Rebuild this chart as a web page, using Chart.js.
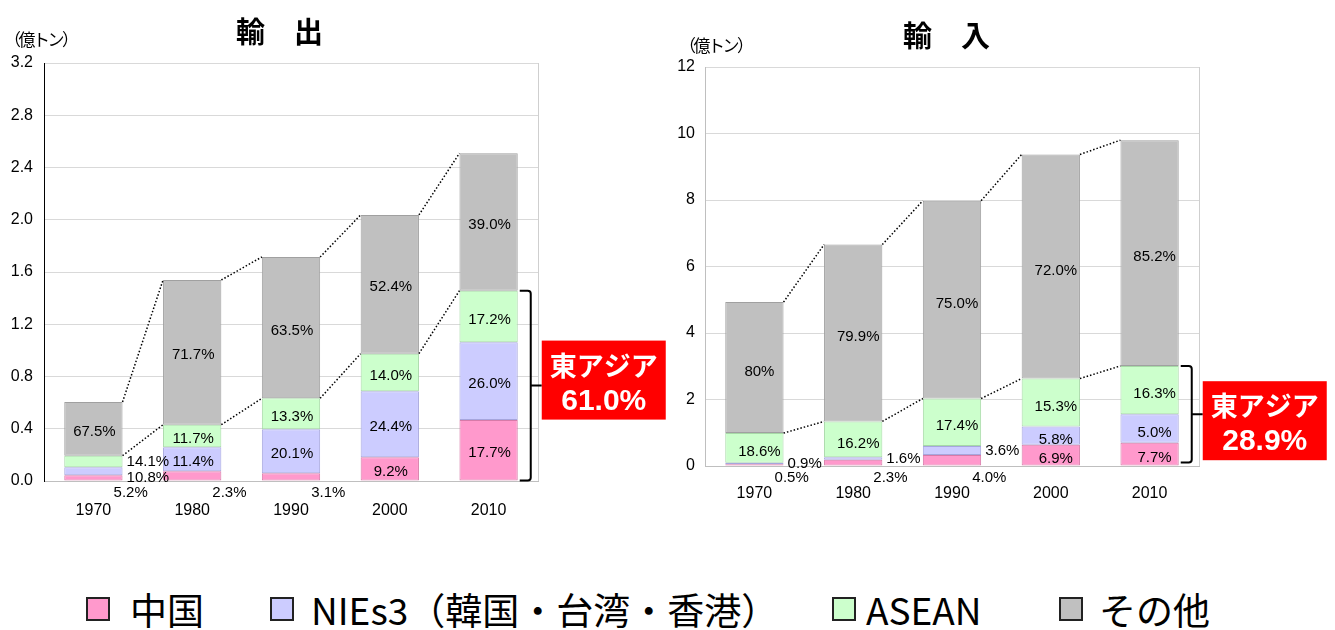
<!DOCTYPE html>
<html>
<head>
<meta charset="utf-8">
<script src="https://cdn.jsdelivr.net/npm/chart.js@4/dist/chart.umd.min.js"></script>
<style>
    body { margin: 0; background: #fff; width: 1335px; height: 630px; position: relative; overflow: hidden; font-family: "Noto Sans CJK JP", "Liberation Sans", sans-serif; }
    .box { position: absolute; top: 0; height: 530px; }
    .txt { position: absolute; white-space: nowrap; color: #000; }
    .title { font-weight: bold; font-size: 29px; line-height: 29px; }
    .unit { font-size: 17px; line-height: 17px; letter-spacing: -2.5px; }
    .leg { font-size: 37px; line-height: 37px; top: 591px; }
    .sw { position: absolute; top: 597px; width: 20px; height: 20px; border: 2px solid #222; }
</style>
</head>
<body>
<div class="box" style="left:0;width:670px"><canvas id="exportChart" width="670" height="530"></canvas></div>
<div class="box" style="left:670px;width:665px"><canvas id="importChart" width="665" height="530"></canvas></div>

<div class="txt title" style="left:236px;top:16px">輸　出</div>
<div class="txt title" style="left:903px;top:20px">輸　入</div>
<div class="txt unit" style="left:4px;top:30px">（億トン）</div>
<div class="txt unit" style="left:679px;top:36px">（億トン）</div>

<div class="sw" style="left:86px;background:#FF99CC"></div>
<div class="txt leg" style="left:130px">中国</div>
<div class="sw" style="left:270px;background:#CCCCFF"></div>
<div class="txt leg" style="left:311px">NIEs3（韓国・台湾・香港）</div>
<div class="sw" style="left:832px;background:#CCFFCC"></div>
<div class="txt leg" style="left:866px">ASEAN</div>
<div class="sw" style="left:1059px;background:#C0C0C0"></div>
<div class="txt leg" style="left:1099px">その他</div>

<script>
    const years = ["1970", "1980", "1990", "2000", "2010"];

    // 輸出 (億トン)
    const exportChina = [0.044, 0.074, 0.059, 0.181, 0.467];
    const exportNies = [0.061, 0.184, 0.337, 0.506, 0.595];
    const exportAsean = [0.089, 0.173, 0.237, 0.288, 0.395];
    const exportOther = [0.411, 1.108, 1.082, 1.062, 1.052];
    const exportChinaPct = ["5.2%", "2.3%", "3.1%", "9.2%", "17.7%"];
    const exportNiesPct = ["10.8%", "11.4%", "20.1%", "24.4%", "26.0%"];
    const exportAseanPct = ["14.1%", "11.7%", "13.3%", "14.0%", "17.2%"];
    const exportOtherPct = ["67.5%", "71.7%", "63.5%", "52.4%", "39.0%"];
    const exportEastAsia = "61.0%";

    // 輸入 (億トン)
    const importChina = [0.05, 0.19, 0.33, 0.64, 0.70];
    const importNies = [0.05, 0.07, 0.27, 0.55, 0.86];
    const importAsean = [0.89, 1.08, 1.43, 1.44, 1.45];
    const importOther = [3.94, 5.32, 5.95, 6.74, 6.79];
    const importChinaPct = ["0.5%", "2.3%", "4.0%", "6.9%", "7.7%"];
    const importNiesPct = ["0.9%", "1.6%", "3.6%", "5.8%", "5.0%"];
    const importAseanPct = ["18.6%", "16.2%", "17.4%", "15.3%", "16.3%"];
    const importOtherPct = ["80%", "79.9%", "75.0%", "72.0%", "85.2%"];
    const importEastAsia = "28.9%";

    const seriesNames = ["中国", "NIEs3（韓国・台湾・香港）", "ASEAN", "その他"];
    const fills = ["#FF99CC", "#CCCCFF", "#CCFFCC", "#C0C0C0"];
    const edges = ["#d77aa8", "#a6a6dd", "#a6d9a6", "#a0a0a0"];

    Chart.defaults.font.family = '"Liberation Sans", Arial, sans-serif';
    Chart.defaults.color = "#000";

    const overlay = {
        id: "overlay",
        afterDatasetsDraw(chart, args, opts) {
            const ctx = chart.ctx;
            const area = chart.chartArea;
            const metas = [0, 1, 2, 3].map((i) => chart.getDatasetMeta(i));
            const n = metas[0].data.length;

            ctx.save();
            // right frame of plot
            ctx.strokeStyle = "#cfcfcf";
            ctx.lineWidth = 1;
            ctx.beginPath();
            ctx.moveTo(area.right + 0.5, area.top);
            ctx.lineTo(area.right + 0.5, area.bottom);
            ctx.stroke();

            // dotted lines between bar tops
            ctx.strokeStyle = "#000";
            ctx.lineWidth = 1.5;
            ctx.setLineDash([1.5, 2]);
            [2, 3].forEach((d) => {
                const bars = metas[d].data;
                for (let i = 0; i < n - 1; i++) {
                    const a = bars[i];
                    const b = bars[i + 1];
                    ctx.beginPath();
                    ctx.moveTo(a.x + a.width / 2, a.y);
                    ctx.lineTo(b.x - b.width / 2, b.y);
                    ctx.stroke();
                }
            });
            ctx.setLineDash([]);

            // percent labels
            ctx.font = '15px "Liberation Sans", Arial, sans-serif';
            ctx.fillStyle = "#000";
            ctx.textBaseline = "middle";
            for (let i = 0; i < n; i++) {
                let lastY = -Infinity;
                for (let d = 3; d >= 0; d--) {
                    const bar = metas[d].data[i];
                    const text = chart.data.datasets[d].pct[i];
                    const h = bar.base - bar.y;
                    const mid = (bar.y + bar.base) / 2;
                    const right = bar.x + bar.width / 2;
                    if (h >= 15) {
                        ctx.textAlign = "center";
                        ctx.fillText(text, bar.x + opts.dx, mid + opts.dy);
                    } else if (d === 0) {
                        ctx.textAlign = "left";
                        ctx.fillText(text, right - 9, area.bottom + 12);
                    } else {
                        const y = Math.max(mid, lastY + 16);
                        ctx.textAlign = "left";
                        ctx.fillText(text, right + 4, y);
                        lastY = y;
                    }
                }
            }

            // bracket + callout for east asia
            const last = n - 1;
            const top = metas[2].data[last].y;
            const bottom = metas[0].data[last].base - opts.bracketLift;
            const xr = metas[0].data[last].x + metas[0].data[last].width / 2;
            const mid = (top + bottom) / 2;
            const bx = xr + 13;
            const boxLeft = xr + 24;
            ctx.strokeStyle = "#000";
            ctx.lineWidth = 2;
            ctx.beginPath();
            ctx.moveTo(xr + 2, top);
            ctx.lineTo(bx - 3, top);
            ctx.quadraticCurveTo(bx, top, bx, top + 3);
            ctx.lineTo(bx, bottom - 3);
            ctx.quadraticCurveTo(bx, bottom, bx - 3, bottom);
            ctx.lineTo(xr + 2, bottom);
            ctx.moveTo(bx, mid);
            ctx.lineTo(boxLeft, mid);
            ctx.stroke();

            const boxTop = mid + opts.boxShift;
            ctx.fillStyle = "#FF0000";
            ctx.fillRect(boxLeft, boxTop, 124, 79);
            ctx.fillStyle = "#fff";
            ctx.textAlign = "center";
            ctx.font = 'bold 27px "Noto Sans CJK JP", sans-serif';
            ctx.fillText("東アジア", boxLeft + 62, boxTop + 25);
            ctx.font = 'bold 30px "Liberation Sans", Arial, sans-serif';
            ctx.fillText(opts.share, boxLeft + 62, boxTop + 61);
            ctx.restore();
        },
    };

    function makeChart(id, series, pcts, cfg) {
        const ctx = document.getElementById(id).getContext("2d");
        const datasets = series.map((data, i) => ({
            label: seriesNames[i],
            data,
            pct: pcts[i],
            backgroundColor: fills[i],
            borderColor: edges[i],
            borderWidth: 1,
            borderSkipped: false,
            barPercentage: 0.59,
            categoryPercentage: 1,
        }));

        return new Chart(ctx, {
            type: "bar",
            data: { labels: years, datasets },
            options: {
                responsive: false,
                animation: false,
                layout: { padding: { top: cfg.top, right: cfg.right, left: 0, bottom: 0 } },
                plugins: {
                    legend: { display: false },
                    title: { display: false },
                    tooltip: { enabled: false },
                    overlay: {
                        dx: cfg.dx,
                        dy: cfg.dy,
                        share: cfg.share,
                        boxShift: cfg.boxShift,
                        bracketLift: cfg.bracketLift,
                    },
                },
                scales: {
                    x: {
                        stacked: true,
                        grid: { display: false, drawTicks: false },
                        border: { color: "#bfbfbf" },
                        ticks: { padding: cfg.xPad, font: { size: 16 } },
                        afterFit: (s) => { s.height = cfg.xHeight; },
                    },
                    y: {
                        stacked: true,
                        min: 0,
                        max: cfg.max,
                        grid: { color: "#d9d9d9", drawTicks: false },
                        border: { color: cfg.axisColor },
                        ticks: {
                            stepSize: cfg.step,
                            padding: cfg.yPad,
                            font: { size: 16 },
                            callback: (v) => cfg.fmt(v),
                        },
                        afterFit: (s) => { s.width = cfg.yWidth; },
                    },
                },
            },
            plugins: [overlay],
        });
    }

    makeChart(
        "exportChart",
        [exportChina, exportNies, exportAsean, exportOther],
        [exportChinaPct, exportNiesPct, exportAseanPct, exportOtherPct],
        {
            top: 63, right: 132, xHeight: 49, yWidth: 44,
            max: 3.2, step: 0.4, fmt: (v) => v.toFixed(1),
            axisColor: "#000", xPad: 20, yPad: 11,
            dx: 1, dy: 3, share: exportEastAsia, boxShift: -45, bracketLift: 0,
        }
    );

    makeChart(
        "importChart",
        [importChina, importNies, importAsean, importOther],
        [importChinaPct, importNiesPct, importAseanPct, importOtherPct],
        {
            top: 67, right: 136, xHeight: 64, yWidth: 35,
            max: 12, step: 2, fmt: (v) => String(Math.round(v)),
            axisColor: "#bfbfbf", xPad: 18, yPad: 10,
            dx: 5, dy: 4, share: importEastAsia, boxShift: -33, bracketLift: 3,
        }
    );
</script>
</body>
</html>
